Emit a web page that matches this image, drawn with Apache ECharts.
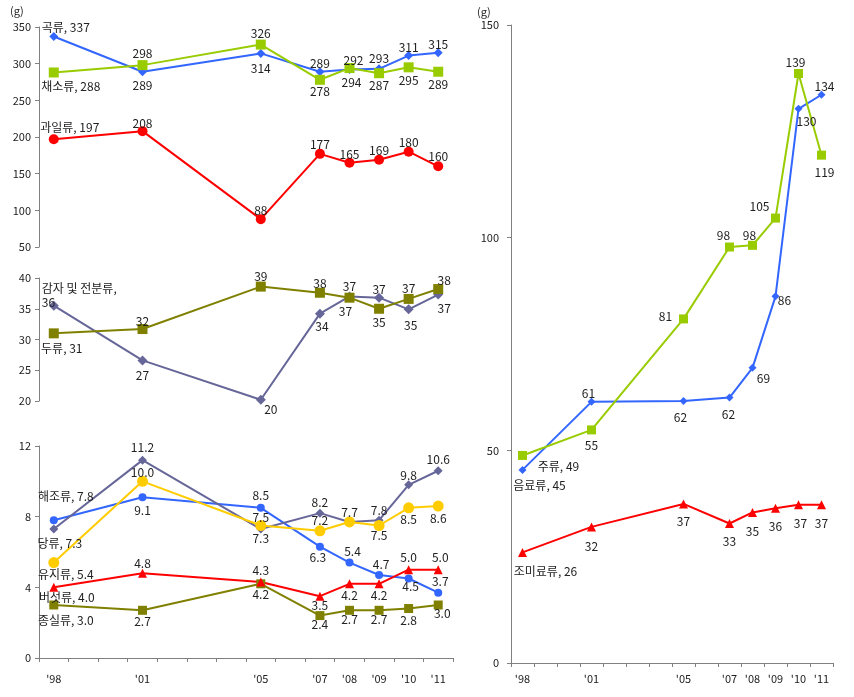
<!DOCTYPE html>
<html>
<head>
<meta charset="utf-8">
<script src="https://cdn.jsdelivr.net/npm/echarts@6/dist/echarts.min.js"></script>
<style>
html,body{margin:0;padding:0;background:#fff;}
#chart{width:854px;height:697px;}
</style>
</head>
<body>
<div id="chart"></div>
<script>
// ---- categories / ticks ----
const years = ['1998','1999','2000','2001','2002','2003','2004','2005','2006','2007','2008','2009','2010','2011'];
const tickLabels = ["'98", "", "", "'01", "", "", "", "'05", "", "'07", "'08", "'09", "'10", "'11"];
const surveyYears = ['1998','2001','2005','2007','2008','2009','2010','2011'];

// ---- series values (g) ----
// top-left panel
const grains     = [337, 289, 314, 289, 292, 293, 311, 315];   // 곡류
const vegetables = [288, 298, 326, 278, 294, 287, 295, 289];   // 채소류
const fruits     = [197, 208, 88, 177, 165, 169, 180, 160];    // 과일류
// middle-left panel
const potatoes   = [35.5, 26.6, 20.2, 34.2, 37.0, 36.8, 34.9, 37.3]; // 감자 및 전분류
const legumes    = [31.0, 31.7, 38.6, 37.6, 36.8, 35.0, 36.6, 38.2]; // 두류
// bottom-left panel
const seaweeds   = [7.8, 9.1, 8.5, 6.3, 5.4, 4.7, 4.5, 3.7];   // 해조류
const sugars     = [7.3, 11.2, 7.3, 8.2, 7.7, 7.8, 9.8, 10.6]; // 당류
const oils       = [5.4, 10.0, 7.5, 7.2, 7.7, 7.5, 8.5, 8.6];  // 유지류
const mushrooms  = [4.0, 4.8, 4.3, 3.5, 4.2, 4.2, 5.0, 5.0];   // 버섯류
const seeds      = [3.0, 2.7, 4.2, 2.4, 2.7, 2.7, 2.8, 3.0];   // 종실류
// right panel
const beverages  = [45.4, 61.4, 61.6, 62.4, 69.4, 86.2, 130.3, 133.6]; // 음료류
const alcohol    = [48.8, 54.8, 80.9, 97.8, 98.2, 104.6, 138.6, 119.4]; // 주류
const seasonings = [26.0, 32.0, 37.4, 32.8, 35.4, 36.4, 37.2, 37.2];    // 조미료류

// ---- label placement (offset from the marker centre, px) ----
const labelOffsets = {
  grains:     [[12,-9],[0,14],[0,15],[0,-8],[4,-9],[0,-10],[0,-8],[0,-8]],
  vegetables: [[17,14],[0,-12],[0,-11],[0,12],[2,14],[0,12],[0,13],[0,13]],
  fruits:     [[16,-12],[0,-8],[0,-9],[0,-9],[0,-8],[0,-9],[0,-9],[0,-10]],
  potatoes:   [[-12,-10],[0,15],[10,10],[2,13],[-4,15],[0,-8],[2,16],[6,14]],
  legumes:    [[8,15],[0,-8],[0,-10],[0,-9],[0,-11],[0,14],[0,-10],[6,-9]],
  seaweeds:   [[12,-24],[0,13],[0,-12],[-2,11],[3,-11],[2,-11],[2,8],[2,-11]],
  sugars:     [[6,14],[0,-13],[0,9],[0,-11],[0,-10],[0,-10],[0,-9],[0,-11]],
  oils:       [[12,12],[0,-9],[0,-8],[0,-10],null,[0,10],[0,12],[0,12]],
  mushrooms:  [[13,10],[0,-10],[0,-12],[0,9],[0,12],[0,12],[0,-12],[2,-12]],
  seeds:      [[12,15],[0,11],[0,11],[0,9],[0,9],[0,9],[0,12],[4,8]],
  alcohol:    [[36,11],[0,16],[-18,-2],[-6,-12],[-3,-10],[-16,-12],[-3,-11],[3,17]],
  beverages:  [[17,16],[-3,-8],[-3,16],[-1,17],[11,11],[9,4],[8,13],[3,-8]],
  seasonings: [[23,19],[0,20],[0,18],[0,18],[0,19],[0,18],[2,19],[0,19]]
};

const FONT = '"Noto Sans CJK KR", "Noto Sans", sans-serif';
const TEXT = '#222';
const AXIS = '#808080';

function buildData(values, offsets, decimals, firstText, firstAlign) {
  return years.map(y => {
    const i = surveyYears.indexOf(y);
    if (i < 0) return '-';
    const off = offsets[i];
    const txt = i === 0 ? firstText(values[i].toFixed(decimals)) : values[i].toFixed(decimals);
    return {
      value: values[i],
      label: off ? {
        show: true, position: 'inside', offset: off, formatter: txt,
        align: (i === 0 && firstAlign) ? firstAlign : 'center', verticalAlign: 'middle',
        lineHeight: 14
      } : { show: false }
    };
  });
}

function line(name, grid, values, offsets, decimals, color, symbol, size, firstText, firstAlign) {
  return {
    name, type: 'line', xAxisIndex: grid, yAxisIndex: grid,
    data: buildData(values, offsets, decimals, firstText || (v => name + ', ' + v), firstAlign),
    connectNulls: true, symbol, symbolSize: size,
    lineStyle: { color, width: 2 }, itemStyle: { color },
    label: { color: TEXT, fontSize: 12, fontFamily: FONT },
    emphasis: { disabled: true }, animation: false
  };
}

const grids = [
  { left: 39, top: 27, width: 414, height: 220 },
  { left: 39, top: 278, width: 414, height: 123 },
  { left: 39, top: 446, width: 414, height: 212 },
  { left: 511, top: 25, width: 322, height: 638 }
];

function xAxis(idx, show, margin) {
  return {
    type: 'category', gridIndex: idx, data: years, boundaryGap: true, show,
    axisLine: { show: true, lineStyle: { color: AXIS, width: 1 } },
    axisTick: { show: true, interval: 0, length: 4, lineStyle: { color: AXIS } },
    axisLabel: { interval: 0, margin, color: TEXT, fontSize: 11, fontFamily: FONT,
      formatter: (v, i) => tickLabels[years.indexOf(v)] },
    splitLine: { show: false }
  };
}
function yAxis(idx, min, max, interval, margin) {
  return {
    type: 'value', gridIndex: idx, min, max, interval,
    axisLine: { show: true, lineStyle: { color: AXIS, width: 1 } },
    axisTick: { show: true, length: 4, lineStyle: { color: AXIS } },
    axisLabel: { margin, color: TEXT, fontSize: 11, fontFamily: FONT },
    splitLine: { show: false }
  };
}

const BLUE = '#3366FF', GREEN = '#99CC00', RED = '#FF0000', PURPLE = '#666699', OLIVE = '#808000', YELLOW = '#FFCC00';

const option = {
  backgroundColor: '#fff',
  animation: false,
  grid: grids,
  xAxis: [xAxis(0, false, 10), xAxis(1, false, 10), xAxis(2, true, 15), xAxis(3, true, 10)],
  yAxis: [yAxis(0, 50, 350, 50, 8), yAxis(1, 20, 40, 5, 8), yAxis(2, 0, 12, 4, 8), yAxis(3, 0, 150, 50, 12)],
  graphic: [
    { type: 'text', left: 10, top: 5, style: { text: '(g)', fill: TEXT, font: '11px ' + FONT } },
    { type: 'text', left: 477, top: 6, style: { text: '(g)', fill: TEXT, font: '11px ' + FONT } }
  ],
  series: [
    line('곡류', 0, grains, labelOffsets.grains, 0, BLUE, 'diamond', 9),
    line('채소류', 0, vegetables, labelOffsets.vegetables, 0, GREEN, 'rect', 10),
    line('과일류', 0, fruits, labelOffsets.fruits, 0, RED, 'circle', 10),
    line('감자 및 전분류', 1, potatoes, labelOffsets.potatoes, 0, PURPLE, 'diamond', 10, v => '감자 및 전분류,\n' + v, 'left'),
    line('두류', 1, legumes, labelOffsets.legumes, 0, OLIVE, 'rect', 10),
    line('종실류', 2, seeds, labelOffsets.seeds, 1, OLIVE, 'rect', 9),
    line('해조류', 2, seaweeds, labelOffsets.seaweeds, 1, BLUE, 'circle', 8),
    line('당류', 2, sugars, labelOffsets.sugars, 1, PURPLE, 'diamond', 9),
    line('유지류', 2, oils, labelOffsets.oils, 1, YELLOW, 'circle', 11),
    line('버섯류', 2, mushrooms, labelOffsets.mushrooms, 1, RED, 'triangle', 9),
    line('음료류', 3, beverages, labelOffsets.beverages, 0, BLUE, 'diamond', 8),
    line('주류', 3, alcohol, labelOffsets.alcohol, 0, GREEN, 'rect', 9),
    line('조미료류', 3, seasonings, labelOffsets.seasonings, 0, RED, 'triangle', 9)
  ]
};

const chart = echarts.init(document.getElementById('chart'), null, { renderer: 'canvas' });
chart.setOption(option);
</script>
</body>
</html>
